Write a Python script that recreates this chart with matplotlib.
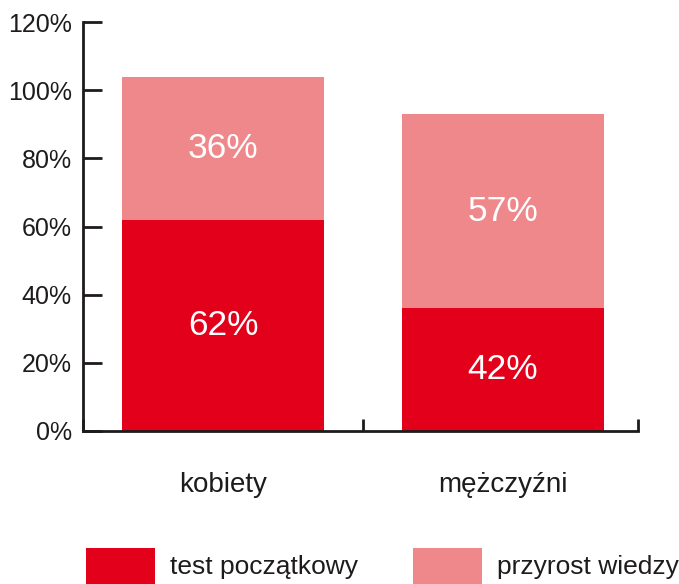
import matplotlib
matplotlib.use("Agg")
import matplotlib.pyplot as plt
from matplotlib.patches import Rectangle

categories = ["kobiety", "mężczyźni"]
series_names = ["test początkowy", "przyrost wiedzy"]
test_poczatkowy = [62, 36]
przyrost_wiedzy = [42, 57]
labels_bottom = ["62%", "42%"]
labels_top = ["36%", "57%"]
yticks = [0, 20, 40, 60, 80, 100, 120]
ytick_labels = ["0%", "20%", "40%", "60%", "80%", "100%", "120%"]

RED = "#E2001A"
PINK = "#EF888B"
TXT = "#1E1B1C"

plt.rcParams['font.family'] = ['Liberation Sans', 'DejaVu Sans']

W, H = 679, 584
fig = plt.figure(figsize=(W / 100, H / 100), dpi=100)
ax = fig.add_axes([83 / W, 1 - 431 / H, (638 - 83) / W, (431 - 22) / H])

XMAX = 1.482
x = list(range(len(categories)))
ax.bar(x, test_poczatkowy, width=0.722, color=RED, linewidth=0)
ax.bar(x, przyrost_wiedzy, width=0.722, bottom=test_poczatkowy, color=PINK, linewidth=0)

for i in x:
    ax.text(i, test_poczatkowy[i] / 2, labels_bottom[i], ha="center", va="center",
            color="white", fontsize=25.5)
    ax.text(i, test_poczatkowy[i] + przyrost_wiedzy[i] / 2, labels_top[i], ha="center",
            va="center", color="white", fontsize=25.5)

ax.set_xlim(-0.5, XMAX)
ax.set_ylim(0, 120)
ax.set_yticks(yticks)
ax.set_yticklabels(ytick_labels, fontsize=18, color=TXT)
ax.set_xticks([-0.5, 0.5, XMAX])
ax.set_xticklabels([])
ax.tick_params(axis="y", direction="in", length=14, width=2, color=TXT, pad=8)
ax.tick_params(axis="x", direction="in", length=9, width=2, color=TXT)
for s in ["top", "right"]:
    ax.spines[s].set_visible(False)
for s in ["left", "bottom"]:
    ax.spines[s].set_linewidth(2)
    ax.spines[s].set_color(TXT)

for i in x:
    ax.text(i, -15.8, categories[i], ha="center", va="center", fontsize=20, color=TXT,
            transform=ax.transData, clip_on=False)

# legend
leg_colors = [RED, PINK]
leg_x = [86, 413]
for name, col, lx in zip(series_names, leg_colors, leg_x):
    fig.patches.append(Rectangle((lx / W, 0), 69 / W, 36 / H, transform=fig.transFigure,
                                 facecolor=col, edgecolor="none"))
    fig.text((lx + 84) / W, 1 - 567 / H, name, ha="left", va="center", fontsize=19, color=TXT)

fig.savefig("out.png", dpi=100)
